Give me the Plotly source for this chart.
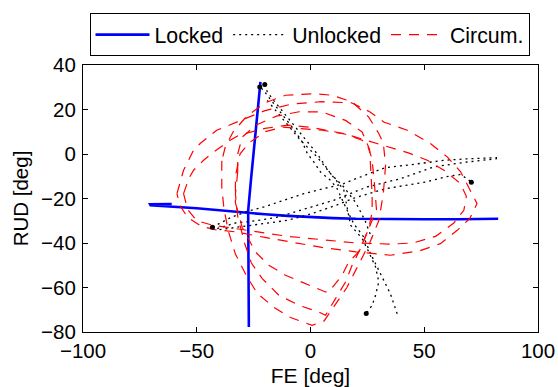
import plotly.graph_objects as go

# ---------------- data (degrees) ----------------
# Locked: vertical sweep and horizontal sweep
locked_v_x = [-27.1, -27.3, -27.3, -27.4, -26.2, -25.0, -23.6, -22.6, -22.0]
locked_v_y = [-77.8, -60.0, -40.0, -25.4, -12.0, 0.0, 15.0, 26.0, 32.4]
locked_h_x = [-61.0, -70.5, -70.3, -60.0, -50.0, -40.0, -30.0, -20.0, -10.0, 0.0, 10.0, 20.0, 35.0, 50.0, 65.0, 82.5]
locked_h_y = [-22.5, -22.6, -23.0, -23.6, -24.4, -25.3, -26.3, -27.1, -27.8, -28.4, -28.8, -29.1, -29.3, -29.3, -29.3, -29.1]

# Unlocked: steep passes
unl_a_x = [-20.1, -19.0, -16.1, -11.7, -6.0, -1.4, 3.0, 8.8, 14.6, 17.6, 22.7, 25.6, 28.6, 30.0, 28.6, 27.1, 24.5]
unl_a_y = [31.2, 27.9, 24.0, 18.5, 11.5, 5.5, 0.0, -8.8, -16.0, -32.0, -38.0, -44.0, -50.8, -57.5, -63.5, -68.0, -71.7]
unl_b_x = [38.1, 35.1, 32.2, 29.3, 26.4, 23.4, 19.0, 16.1, 11.7, 8.8, 4.4, 1.5, -1.4, -3.6, -8.0, -13.0, -18.0, -21.0, -22.3]
unl_b_y = [-71.8, -62.8, -56.8, -50.8, -44.8, -37.3, -31.3, -25.3, -15.6, -11.8, -8.1, -3.6, 0.2, 5.4, 12.0, 18.5, 25.0, 29.0, 30.1]
unl_c_x = [-19.0, -11.7, -4.4, 2.9, 8.8, 14.6, 20.0, 24.0, 27.0]
unl_c_y = [24.1, 15.1, 6.2, -1.3, -8.8, -14.8, -22.0, -30.0, -38.0]
# Unlocked: shallow passes
unl_d_x = [-43.1, -35.0, -27.0, -20.5, -11.7, -2.9, 5.8, 14.6, 24.0, 33.0, 41.7, 50.5, 59.3, 68.0, 77.0, 82.0]
unl_d_y = [-32.9, -28.5, -25.5, -23.8, -20.8, -17.8, -15.6, -13.3, -9.5, -6.1, -5.1, -3.9, -2.8, -2.2, -1.9, -1.6]
unl_e_x = [-41.0, -33.0, -24.0, -15.0, -4.4, 10.2, 24.9, 39.5, 54.2, 68.8, 82.0]
unl_e_y = [-33.5, -31.0, -30.0, -28.5, -25.3, -20.8, -14.8, -11.1, -5.8, -3.6, -2.1]
unl_f_x = [-40.0, -30.0, -20.0, -10.0, 0.0, 10.0, 20.0, 33.0, 41.7, 50.5, 59.3, 65.9, 68.8, 70.7]
unl_f_y = [-34.0, -32.5, -31.0, -29.8, -27.0, -23.5, -19.5, -15.6, -14.1, -12.6, -10.3, -9.2, -11.1, -12.7]

# trajectory end points
dots_x = [-22.3, -20.1, 70.7, -43.1, 24.5]
dots_y = [30.1, 31.2, -12.7, -32.9, -71.7]

# Circumduction loops
circ_a_x = [-58.7, -55.8, -51.4, -48.5, -41.2, -32.4, -20.0, -8.0, 5.0, 18.0, 26.0, 32.2, 42.5, 52.7, 60.1, 66.0, 70.3, 73.2, 70.0, 64.5, 57.1, 48.0, 35.0, 20.0, 5.0, -10.0, -20.0, -33.0, -42.0, -48.0, -54.0, -57.5, -58.7]
circ_a_y = [-17.8, -7.3, 1.7, 4.7, 10.7, 14.4, 19.5, 22.5, 23.5, 23.0, 19.0, 14.4, 10.7, 4.7, -1.3, -8.0, -16.3, -22.3, -29.0, -34.3, -40.3, -43.5, -45.5, -44.0, -42.0, -39.5, -37.5, -35.0, -34.0, -32.5, -28.5, -23.0, -17.8]
circ_b_x = [-55.8, -53.5, -51.4, -47.0, -42.6, -35.3, -31.6, -20.0, -10.0, 0.0, 14.6, 25.0, 35.1, 43.0, 51.3, 59.0, 65.9, 68.5, 67.4, 63.0, 55.0, 45.0, 35.0, 20.0, 5.0, -10.0, -20.0, -33.0, -43.0, -50.0, -54.0, -55.8]
circ_b_y = [-17.8, -11.0, -7.3, -2.8, 0.9, 6.2, 8.4, 11.5, 13.0, 12.0, 9.2, 6.0, 3.1, 0.5, -2.8, -7.5, -13.3, -19.0, -25.3, -31.0, -37.0, -40.0, -40.5, -40.0, -38.5, -37.0, -35.5, -33.5, -32.0, -30.0, -25.0, -17.8]
circ_c_x = [-39.0, -39.0, -38.0, -36.0, -33.0, -28.0, -23.4, -16.0, -8.8, 0.7, 6.0, 10.0, 16.0, 21.0, 26.0, 30.0, 32.0, 33.0, 32.0, 30.0, 25.6, 18.3, 9.5, 2.2, -11.0, -20.0, -28.0, -34.0, -37.5, -39.0]
circ_c_y = [-3.0, -15.0, -25.0, -35.0, -45.0, -55.0, -62.6, -69.0, -73.5, -77.0, -75.0, -69.0, -60.0, -50.0, -40.0, -30.0, -18.0, -5.0, 5.0, 9.2, 16.6, 23.4, 26.4, 27.1, 26.4, 23.0, 17.0, 10.0, 3.0, -3.0]
circ_d_x = [-32.0, -33.0, -32.0, -29.0, -26.0, -21.2, -13.9, -5.1, 3.6, 6.6, 11.0, 15.4, 18.3, 22.7, 25.6, 27.1, 27.1, 26.5, 26.0, 22.7, 15.4, 5.1, -5.0, -15.0, -24.0, -30.0, -32.0, -32.0]
circ_d_y = [-8.0, -18.0, -28.0, -40.0, -49.0, -56.0, -63.5, -68.0, -71.0, -72.5, -65.0, -57.5, -50.0, -41.0, -33.5, -26.0, -18.6, -8.0, 2.0, 9.9, 15.1, 18.9, 19.0, 17.0, 13.0, 7.6, 0.0, -8.0]
circ_e_x = [-33.0, -30.0, -24.2, -18.3, -11.0, -0.7, 6.6, 8.0, 13.9, 16.8, 21.2, 25.0, 29.0, 28.0, 27.0, 25.0, 22.7, 15.0, 5.1, -5.0, -12.4, -20.0, -27.0, -31.0, -33.0, -33.0]
circ_e_y = [-22.0, -33.0, -44.0, -50.0, -54.5, -59.0, -62.0, -62.0, -54.5, -48.5, -44.0, -35.0, -25.0, -12.0, -2.0, 4.0, 6.2, 9.0, 10.7, 11.5, 12.1, 10.0, 5.0, 0.0, -10.0, -22.0]

x_ticks = [-100, -50, 0, 50, 100]
x_tick_text = ["\u2212100", "\u221250", "0", "50", "100"]
y_ticks = [-80, -60, -40, -20, 0, 20, 40]
y_tick_text = ["\u221280", "\u221260", "\u221240", "\u221220", "0", "20", "40"]


def join(*parts):
    out = []
    for i, p in enumerate(parts):
        if i:
            out.append(None)
        out.extend(p)
    return out


fig = go.Figure()

fig.add_trace(go.Scatter(
    x=join(locked_v_x, locked_h_x), y=join(locked_v_y, locked_h_y),
    mode="lines", name="Locked",
    line=dict(color="#0000FF", width=2.6), connectgaps=False))

fig.add_trace(go.Scatter(
    x=join(unl_a_x, unl_b_x, unl_c_x, unl_d_x, unl_e_x, unl_f_x),
    y=join(unl_a_y, unl_b_y, unl_c_y, unl_d_y, unl_e_y, unl_f_y),
    mode="lines", name="Unlocked",
    line=dict(color="black", width=1.3, dash="2px,4px"), connectgaps=False))

fig.add_trace(go.Scatter(
    x=join(circ_a_x, circ_b_x, circ_c_x, circ_d_x, circ_e_x),
    y=join(circ_a_y, circ_b_y, circ_c_y, circ_d_y, circ_e_y),
    mode="lines", name="Circum.",
    line=dict(color="#FF0000", width=1.2, dash="10px,8px"), connectgaps=False))

fig.add_trace(go.Scatter(
    x=dots_x, y=dots_y, mode="markers", showlegend=False,
    marker=dict(color="black", size=5)))

FS = 20.5
axis_common = dict(
    showgrid=False, zeroline=False, showline=True, linecolor="black",
    linewidth=1, mirror="ticks", ticks="inside", ticklen=5,
    tickcolor="black", tickwidth=1, automargin=False,
    tickfont=dict(size=FS, color="black"),
)

fig.update_layout(
    width=558, height=387,
    margin=dict(l=82.5, r=20.3, t=64.7, b=55.3, autoexpand=False),
    paper_bgcolor="white", plot_bgcolor="white",
    font=dict(family="Liberation Sans, Arial, sans-serif", size=FS, color="black"),
    xaxis=dict(range=[-100, 100], tickvals=x_ticks, ticktext=x_tick_text,
               title=dict(text="FE [deg]", font=dict(size=21), standoff=12),
               ticklabelstandoff=0, **axis_common),
    yaxis=dict(range=[-80, 40], tickvals=y_ticks, ticktext=y_tick_text,
               title=dict(text="RUD [deg]", font=dict(size=FS), standoff=6),
               ticklabelstandoff=2, **axis_common),
    legend=dict(orientation="h", x=0.0143, y=1.1936, xanchor="left", yanchor="top",
                bgcolor="white", bordercolor="black", borderwidth=1,
                font=dict(size=21.3), itemwidth=54, tracegroupgap=0),
    showlegend=True,
)

fig.write_html("out.html",
               config={"displayModeBar": False},
               post_script="document.body.style.margin='0';document.body.style.padding='0';")
